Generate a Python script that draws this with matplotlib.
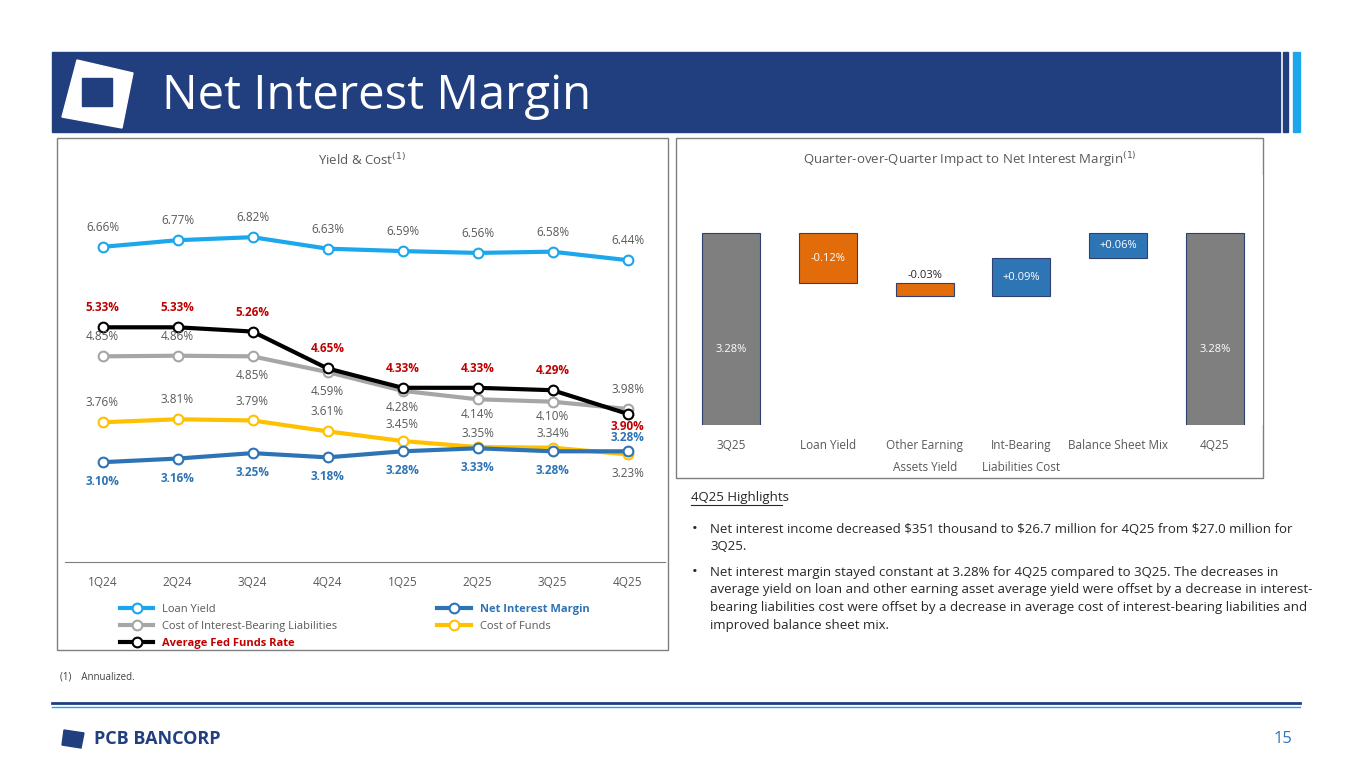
import matplotlib.pyplot as plt
import matplotlib.patches as mpatches
import numpy as np

plt.rcParams['font.family'] = ['Open Sans', 'DejaVu Sans']

quarters = ["1Q24", "2Q24", "3Q24", "4Q24", "1Q25", "2Q25", "3Q25", "4Q25"]
loan_yield = [6.66, 6.77, 6.82, 6.63, 6.59, 6.56, 6.58, 6.44]
fed_funds = [5.33, 5.33, 5.26, 4.65, 4.33, 4.33, 4.29, 3.90]
coibl = [4.85, 4.86, 4.85, 4.59, 4.28, 4.14, 4.10, 3.98]
cof = [3.76, 3.81, 3.79, 3.61, 3.45, 3.35, 3.34, 3.23]
nim = [3.10, 3.16, 3.25, 3.18, 3.28, 3.33, 3.28, 3.28]

wf_labels = ["3Q25", "Loan Yield", "Other Earning\nAssets Yield", "Int-Bearing\nLiabilities Cost", "Balance Sheet Mix", "4Q25"]
wf_start = 3.28
wf_deltas = [-0.12, -0.03, 0.09, 0.06]
wf_end = 3.28

fig = plt.figure(figsize=(13.65, 7.68), dpi=100)
W, H = 1365, 768

def box(x0, y0, x1, y1):
    return [x0 / W, 1 - y1 / H, (x1 - x0) / W, (y1 - y0) / H]

# header
hdr = fig.add_axes([0, 0, 1, 1]); hdr.set_xlim(0, W); hdr.set_ylim(H, 0); hdr.axis("off")
hdr.add_patch(mpatches.Rectangle((52, 52), 1228, 80, color="#213F7F"))
hdr.add_patch(mpatches.Rectangle((1283, 52), 5, 80, color="#213F7F"))
hdr.add_patch(mpatches.Rectangle((1293, 52), 7, 80, color="#1CA7EC"))
hdr.add_patch(mpatches.Polygon([(77, 60), (133, 73), (122, 128), (62, 117)], color="white"))
hdr.add_patch(mpatches.Rectangle((82, 78), 30, 28, color="#213F7F"))
hdr.text(162, 96, "Net Interest Margin", color="white", fontsize=34, va="center")
hdr.add_patch(mpatches.Rectangle((57, 138), 611, 512, fill=False, ec="#7F7F7F", lw=1))
hdr.add_patch(mpatches.Rectangle((676, 138), 587, 340, fill=False, ec="#7F7F7F", lw=1))
hdr.plot([52, 1300], [703, 703], color="#213F7F", lw=2)
hdr.plot([52, 1300], [707, 707], color="#1CA7EC", lw=1)
hdr.add_patch(mpatches.Polygon([(64, 730), (84, 733), (81, 748), (62, 745)], color="#213F7F"))
hdr.text(94, 739, "PCB BANCORP", color="#213F7F", fontsize=13, fontweight="bold", va="center")
hdr.text(1292, 739, "15", color="#2E74B5", fontsize=12, va="center", ha="right")
hdr.text(60, 677, "(1)    Annualized.", fontsize=7, va="center", color="#404040")
hdr.text(362, 160, "Yield & Cost$^{(1)}$", fontsize=9.5, color="#595959", ha="center", va="center")
hdr.text(970, 160, "Quarter-over-Quarter Impact to Net Interest Margin$^{(1)}$", fontsize=9.5, color="#595959", ha="center", va="center")

hdr.text(691, 497, "4Q25 Highlights", fontsize=9.5, va="center", color="#262626")
hdr.plot([691, 782], [505, 505], color="#262626", lw=0.8)
bullets = [
    (523, "Net interest income decreased \\$351 thousand to \\$26.7 million for 4Q25 from \\$27.0 million for\n3Q25."),
    (566, "Net interest margin stayed constant at 3.28% for 4Q25 compared to 3Q25. The decreases in\naverage yield on loan and other earning asset average yield were offset by a decrease in interest-\nbearing liabilities cost were offset by a decrease in average cost of interest-bearing liabilities and\nimproved balance sheet mix."),
]
for y, t in bullets:
    hdr.text(692, y - 1, "\u2022", fontsize=11, va="top", color="#262626")
    hdr.text(710, y, t, fontsize=9.5, va="top", color="#262626", linespacing=1.45)

# left line chart
ax = fig.add_axes(box(65, 190, 665, 562))
x = np.arange(len(quarters))
series = [
    (loan_yield, "#1CA7EC", "Loan Yield", [14] * 8, False, "#595959"),
    (coibl, "#A6A6A6", "Cost of Interest-Bearing Liabilities", [14, 14, -14, -14, -12, -11, -11, 14], False, "#595959"),
    (cof, "#FFC000", "Cost of Funds", [14, 14, 14, 14, 12, 10, 10, -14], False, "#595959"),
    (nim, "#2E74B5", "Net Interest Margin", [-14] * 7 + [10], True, "#2E74B5"),
    (fed_funds, "black", "Average Fed Funds Rate", [14] * 7 + [-9], True, "#C00000"),
]
handles = {}
for vals, col, name, offs, bold, tcol in series:
    h, = ax.plot(x, vals, color=col, lw=3, marker="o", ms=7, mfc="white", mec=col, mew=1.5, label=name)
    handles[name] = h
    for xi, v, off in zip(x, vals, offs):
        ax.annotate(f"{v:.2f}%", (xi, v), xytext=(0, off), textcoords="offset points", ha="center",
                    va="center", fontsize=8.5, color=tcol, fontweight="bold" if bold else "normal")
ax.set_xlim(-0.5, 7.5)
ax.set_ylim(1.45, 7.6)
ax.set_xticks(x, quarters)
ax.tick_params(axis="x", length=0, labelsize=8.5, labelcolor="#595959", pad=10)
ax.set_yticks([])
for s in ["top", "left", "right"]:
    ax.spines[s].set_visible(False)
ax.spines["bottom"].set_color("#7F7F7F")
order = ["Loan Yield", "Cost of Interest-Bearing Liabilities", "Average Fed Funds Rate", "Net Interest Margin", "Cost of Funds"]
leg = fig.legend([handles[n] for n in order], order, loc="upper left", bbox_to_anchor=(110 / W, 1 - 594 / H),
                 ncol=2, frameon=False, fontsize=8, handlelength=3, columnspacing=9, labelspacing=0.55)
for t in leg.get_texts():
    t.set_color("#595959")
leg.get_texts()[3].set_color("#2E74B5"); leg.get_texts()[3].set_fontweight("bold")
leg.get_texts()[2].set_color("#C00000"); leg.get_texts()[2].set_fontweight("bold")

# waterfall
bx = fig.add_axes(box(683, 175, 1263, 425))
level = wf_start
bottoms, heights, colors = [0], [wf_start], ["#7F7F7F"]
for d in wf_deltas:
    bottoms.append(level if d > 0 else level + d)
    heights.append(abs(d))
    colors.append("#2E75B6" if d > 0 else "#E36C0A")
    level += d
bottoms.append(0); heights.append(wf_end); colors.append("#7F7F7F")
xs = np.arange(len(wf_labels))
bx.bar(xs, heights, bottom=bottoms, width=0.6, color=colors, edgecolor="#2F3F6F", lw=0.8)
bx.set_ylim(2.82, 3.42)
bx.set_xlim(-0.5, 5.5)
bx.text(0, 3.0, f"{wf_start:.2f}%", ha="center", va="center", color="white", fontsize=8)
bx.text(5, 3.0, f"{wf_end:.2f}%", ha="center", va="center", color="white", fontsize=8)
for i, d in enumerate(wf_deltas, start=1):
    lab = f"{d:+.2f}%"
    if abs(d) < 0.05:
        bx.text(i, bottoms[i] + heights[i] + 0.005, lab, ha="center", va="bottom", fontsize=8, color="#262626")
    else:
        bx.text(i, bottoms[i] + heights[i] / 2, lab, ha="center", va="center", fontsize=8, color="white")
bx.set_xticks(xs, wf_labels)
bx.tick_params(axis="x", length=0, labelsize=8.5, labelcolor="#595959", pad=10)
for t in bx.get_xticklabels():
    t.set_linespacing(1.9); t.set_va("top")
bx.set_yticks([])
for s in bx.spines.values():
    s.set_visible(False)

fig.savefig("out.png", dpi=100)
